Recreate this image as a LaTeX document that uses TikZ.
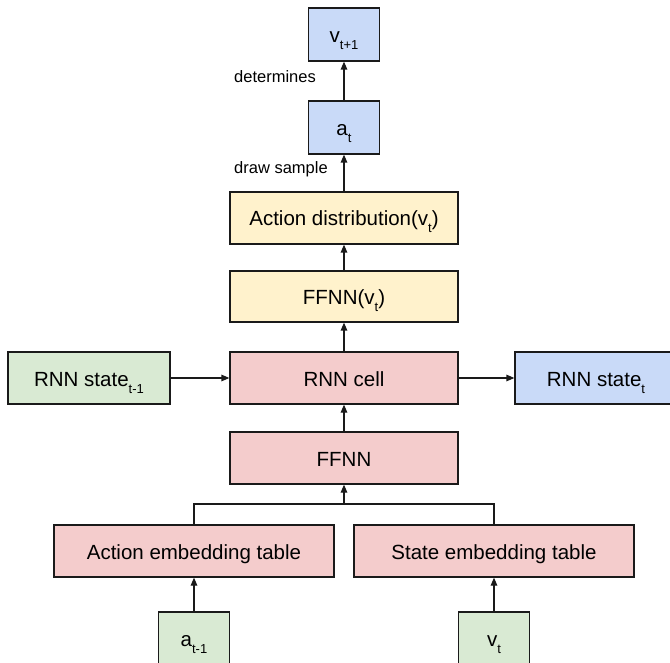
\documentclass[tikz,border=0pt]{standalone}
\usepackage{fontspec}
\setmainfont{Liberation Sans}
\usetikzlibrary{arrows.meta}
\definecolor{cblue}{HTML}{C9DAF8}
\definecolor{cyellow}{HTML}{FFF2CC}
\definecolor{cpink}{HTML}{F4CCCC}
\definecolor{cgreen}{HTML}{D9EAD3}
\definecolor{cline}{HTML}{1A1A1A}
\newcommand\mysub[1]{\raisebox{-7pt}{\fontsize{13}{13}\selectfont #1}}
\begin{document}
\begin{tikzpicture}[x=1pt,y=-1pt,
  box/.style={draw=cline, line width=1.2pt, inner sep=0pt, text height=16pt, text depth=0pt,
    font=\fontsize{20.5}{24}\selectfont, align=center},
  smallbox/.style={box, minimum width=71pt, minimum height=53pt},
  widebox/.style={box, minimum width=228pt, minimum height=52pt},
  sidebox/.style={box, minimum width=162pt, minimum height=52pt},
  embbox/.style={box, minimum width=280pt, minimum height=52pt},
  arr/.style={draw=cline, line width=1.2pt, -{Triangle[length=8pt,width=6.5pt]}},
  plain/.style={draw=cline, line width=1.2pt},
  lbl/.style={inner sep=0pt, font=\fontsize{16.5}{20}\selectfont}]
\useasboundingbox (0,0) rectangle (670,663);
\clip (0,0) rectangle (670,663);
\fill[white] (0,0) rectangle (670,663);

\node[smallbox, fill=cblue] (vt1) at (344,34.5) {v\mysub{t+1}};
\node[smallbox, fill=cblue] (at) at (344,127.5) {a\mysub{t}};
\node[widebox, fill=cyellow] (adist) at (344,218) {Action distribution(v\mysub{t})};
\node[widebox, fill=cyellow, minimum height=51pt] (ffnnv) at (344,296.5) {FFNN(v\mysub{t})};
\node[widebox, fill=cpink] (cell) at (344,378) {RNN cell};
\node[sidebox, fill=cgreen] (sprev) at (89,378) {RNN state\mysub{t-1}};
\node[sidebox, fill=cblue] (snext) at (596,378) {RNN state\mysub{t}};
\node[widebox, fill=cpink] (ffnn) at (344,458) {FFNN};
\node[embbox, fill=cpink] (aemb) at (194,551) {Action embedding table};
\node[embbox, fill=cpink] (semb) at (494,551) {State embedding table};
\node[smallbox, fill=cgreen] (aprev) at (194,638.5) {a\mysub{t-1}};
\node[smallbox, fill=cgreen] (vt) at (494,638.5) {v\mysub{t}};

\node[lbl, anchor=base west] (ldet) at (234,83) {determines};
\node[lbl, anchor=base west] (ldraw) at (234,174) {draw sample};

\draw[arr] (at) -- (vt1);
\draw[arr] (adist) -- (at);
\draw[arr] (ffnnv) -- (adist);
\draw[arr] (cell) -- (ffnnv);
\draw[arr] (ffnn) -- (cell);
\draw[arr] (sprev) -- (cell);
\draw[arr] (cell) -- (snext);
\coordinate (j) at (344,504);
\draw[plain] (aemb.north) |- (j) -| (semb.north);
\draw[arr] (j) -- (ffnn.south);
\draw[arr] (aprev) -- (aemb);
\draw[arr] (vt) -- (semb);
\end{tikzpicture}
\end{document}
